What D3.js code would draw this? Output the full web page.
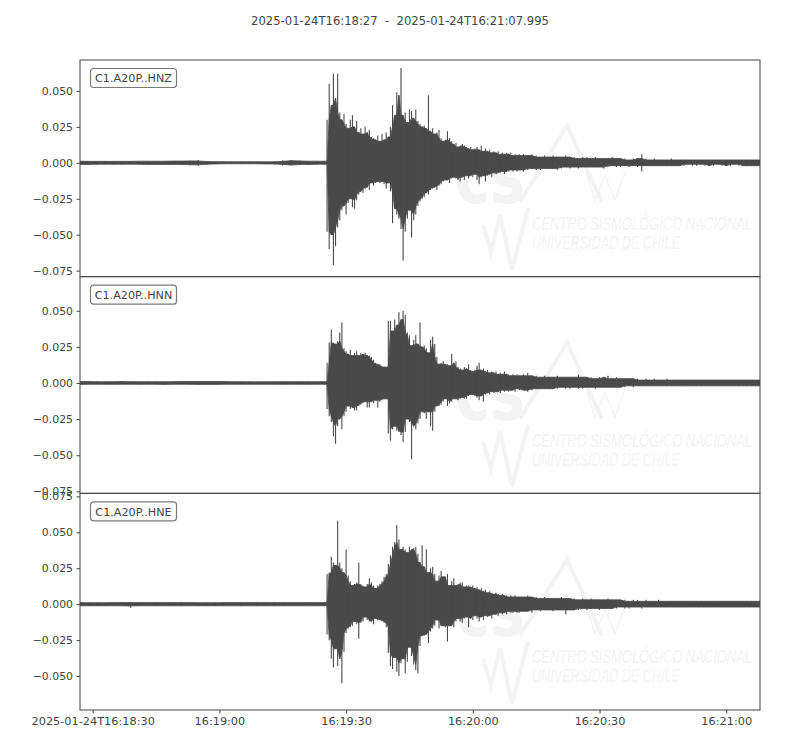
<!DOCTYPE html>
<html><head><meta charset="utf-8">
<script src="https://cdn.jsdelivr.net/npm/d3@7"></script>
<style>body{margin:0;background:#fff}</style>
</head><body>
<svg id="chart" width="800" height="750"></svg>
<script>
// ---------------- DATA ----------------
const title = "2025-01-24T16:18:27  -  2025-01-24T16:21:07.995";
const startTime = "2025-01-24T16:18:27.000Z";
const endTime = "2025-01-24T16:21:07.995Z";
const channels = ["C1.A20P..HNZ", "C1.A20P..HNN", "C1.A20P..HNE"];

// sample times, seconds after startTime (envelope samples)
const times = [
  0,2,4,6,8,10,12,14,16,18,20,22,24,26,28,30,32,34,36,38,40,42,44,46,48,50,52,54,56,58,
  58.5,59,59.5,60,60.5,61,61.5,62,62.5,63,63.5,64,64.5,65,65.5,66,66.5,67,67.5,68,
  68.5,69,69.5,70,70.5,71,71.5,72,72.5,73,73.5,74,74.5,75,75.5,76,76.5,77,77.5,78,
  78.5,79,79.5,80,80.5,81,81.5,82,82.5,83,83.5,84,84.5,85,85.5,86,86.5,87,87.5,88,
  88.5,89,89.5,90,90.5,91,91.5,92,92.5,93,93.5,94,94.5,95,95.5,96,96.5,97,97.5,98,
  98.5,99,99.5,100,100.5,101,101.5,102,102.5,103,103.5,104,
  105,106,107,108,109,110,111,112,113,114,115,116,117,118,119,120,121,122,123,124,
  125,126,127,128,129,130,131,132,133,134,135,136,137,138,139,140,141,142,143,144,
  145,146,147,148,149,150,151,152,153,154,155,156,157,158,159,160,161
];

const hnzMax = [
  0.0011,0.0012,0.0010,0.0012,0.0011,0.0010,0.0012,0.0011,0.0013,0.0011,0.0012,0.0012,0.0013,0.0015,0.0019,0.0013,0.0009,0.0008,0.0008,0.0007,0.0008,0.0008,0.0007,0.0010,0.0017,0.0018,0.0015,0.0013,0.0011,0.0011,
  0.030,0.055,0.040,0.062,0.045,0.062,0.035,0.030,0.034,0.027,
  0.024,0.030,0.033,0.025,0.029,0.021,0.024,0.020,0.025,0.021,
  0.023,0.018,0.017,0.016,0.019,0.015,0.020,0.016,0.021,0.018,
  0.025,0.040,0.033,0.049,0.047,0.066,0.033,0.035,0.028,0.037,
  0.036,0.031,0.037,0.029,0.027,0.025,0.026,0.024,0.047,0.022,
  0.024,0.020,0.021,0.023,0.017,0.015,0.016,0.022,0.017,0.015,
  0.013,0.014,0.011,0.012,0.013,0.012,0.011,0.010,0.011,0.009,
  0.010,0.011,0.009,0.012,0.008,0.010,0.008,0.009,0.007,0.008,
  0.007,0.008,0.006,0.007,0.006,0.007,0.006,0.007,0.005,0.006,
  0.005,0.006,
  0.006,0.005,0.006,0.005,0.004,0.005,0.004,0.005,0.004,0.004,
  0.005,0.004,0.004,0.003,0.004,0.004,0.003,0.004,0.003,0.003,
  0.003,0.004,0.003,0.003,0.003,0.002,0.003,0.003,0.006,0.003,
  0.002,0.003,0.002,0.002,0.002,0.003,0.002,0.002,0.002,0.002,
  0.002,0.002,0.002,0.002,0.002,0.002,0.002,0.002,0.002,0.002,
  0.002,0.002,0.002,0.002,0.002,0.002,0.002
];
const hnzMin = [
  -0.0012,-0.0011,-0.0012,-0.0010,-0.0012,-0.0011,-0.0010,-0.0012,-0.0011,-0.0013,-0.0012,-0.0011,-0.0014,-0.0016,-0.0020,-0.0014,-0.0010,-0.0008,-0.0007,-0.0008,-0.0007,-0.0008,-0.0008,-0.0011,-0.0018,-0.0017,-0.0016,-0.0012,-0.0012,-0.0010,
  -0.048,-0.060,-0.050,-0.071,-0.058,-0.045,-0.040,-0.033,-0.030,-0.036,
  -0.028,-0.025,-0.031,-0.032,-0.026,-0.022,-0.020,-0.021,-0.018,-0.017,
  -0.019,-0.014,-0.016,-0.014,-0.013,-0.014,-0.013,-0.015,-0.018,-0.014,
  -0.020,-0.042,-0.032,-0.036,-0.039,-0.046,-0.068,-0.048,-0.039,-0.033,
  -0.052,-0.040,-0.036,-0.030,-0.027,-0.025,-0.024,-0.021,-0.022,-0.019,
  -0.018,-0.017,-0.019,-0.016,-0.015,-0.013,-0.012,-0.012,-0.014,-0.011,
  -0.010,-0.011,-0.012,-0.013,-0.010,-0.012,-0.009,-0.011,-0.009,-0.010,
  -0.008,-0.012,-0.015,-0.010,-0.009,-0.013,-0.009,-0.008,-0.010,-0.007,
  -0.008,-0.007,-0.007,-0.006,-0.008,-0.006,-0.006,-0.005,-0.006,-0.005,
  -0.006,-0.005,
  -0.006,-0.005,-0.004,-0.005,-0.005,-0.004,-0.004,-0.004,-0.005,-0.004,
  -0.003,-0.004,-0.003,-0.004,-0.003,-0.003,-0.003,-0.003,-0.003,-0.004,
  -0.003,-0.002,-0.003,-0.003,-0.002,-0.003,-0.002,-0.003,-0.006,-0.002,
  -0.002,-0.002,-0.002,-0.002,-0.002,-0.002,-0.002,-0.002,-0.002,-0.001,
  -0.002,-0.002,-0.001,-0.002,-0.002,-0.002,-0.001,-0.002,-0.002,-0.002,
  -0.001,-0.002,-0.002,-0.002,-0.002,-0.002,-0.002
];

const hnnMax = [
  0.0012,0.0010,0.0011,0.0009,0.0010,0.0012,0.0010,0.0009,0.0011,0.0010,0.0009,0.0011,0.0010,0.0012,0.0011,0.0010,0.0011,0.0012,0.0010,0.0009,0.0010,0.0008,0.0009,0.0011,0.0009,0.0010,0.0009,0.0011,0.0010,0.0009,
  0.014,0.028,0.037,0.028,0.027,0.029,0.035,0.042,0.024,0.022,
  0.020,0.023,0.019,0.021,0.022,0.019,0.021,0.020,0.021,0.019,
  0.019,0.018,0.016,0.014,0.013,0.013,0.012,0.011,0.011,0.043,
  0.043,0.036,0.044,0.040,0.049,0.044,0.050,0.047,0.035,0.033,
  0.026,0.030,0.033,0.027,0.042,0.025,0.026,0.024,0.021,0.030,
  0.032,0.027,0.018,0.013,0.014,0.015,0.013,0.013,0.012,0.020,
  0.014,0.015,0.011,0.010,0.009,0.011,0.010,0.013,0.009,0.008,
  0.009,0.012,0.014,0.009,0.010,0.008,0.009,0.007,0.008,0.007,
  0.008,0.006,0.007,0.006,0.008,0.006,0.006,0.005,0.006,0.005,
  0.006,0.005,
  0.006,0.007,0.005,0.005,0.004,0.005,0.004,0.004,0.005,0.004,
  0.004,0.004,0.004,0.006,0.004,0.004,0.004,0.003,0.004,0.004,
  0.005,0.003,0.004,0.003,0.003,0.003,0.003,0.003,0.002,0.003,
  0.002,0.003,0.002,0.002,0.003,0.002,0.002,0.002,0.002,0.002,
  0.002,0.002,0.002,0.002,0.002,0.002,0.002,0.002,0.002,0.002,
  0.002,0.002,0.002,0.002,0.002,0.002,0.002
];
const hnnMin = [
  -0.0010,-0.0011,-0.0009,-0.0011,-0.0010,-0.0009,-0.0011,-0.0010,-0.0009,-0.0011,-0.0010,-0.0011,-0.0009,-0.0010,-0.0012,-0.0011,-0.0010,-0.0011,-0.0009,-0.0010,-0.0009,-0.0010,-0.0009,-0.0010,-0.0011,-0.0009,-0.0010,-0.0010,-0.0009,-0.0010,
  -0.018,-0.023,-0.027,-0.037,-0.042,-0.030,-0.025,-0.032,-0.023,-0.020,
  -0.016,-0.018,-0.017,-0.019,-0.019,-0.016,-0.015,-0.014,-0.013,-0.017,
  -0.017,-0.013,-0.014,-0.012,-0.017,-0.013,-0.012,-0.011,-0.011,-0.035,
  -0.040,-0.032,-0.030,-0.033,-0.034,-0.036,-0.041,-0.034,-0.025,-0.027,
  -0.053,-0.030,-0.032,-0.028,-0.025,-0.020,-0.021,-0.025,-0.020,-0.030,
  -0.033,-0.020,-0.016,-0.016,-0.015,-0.013,-0.011,-0.016,-0.014,-0.013,
  -0.011,-0.011,-0.012,-0.011,-0.010,-0.011,-0.011,-0.009,-0.008,-0.008,
  -0.009,-0.010,-0.012,-0.009,-0.013,-0.008,-0.007,-0.008,-0.006,-0.007,
  -0.006,-0.006,-0.007,-0.005,-0.006,-0.005,-0.006,-0.005,-0.005,-0.006,
  -0.004,-0.005,
  -0.005,-0.006,-0.005,-0.004,-0.004,-0.004,-0.004,-0.004,-0.004,-0.003,
  -0.004,-0.004,-0.003,-0.004,-0.004,-0.003,-0.003,-0.004,-0.003,-0.003,
  -0.003,-0.003,-0.003,-0.003,-0.003,-0.002,-0.003,-0.002,-0.002,-0.002,
  -0.002,-0.002,-0.002,-0.002,-0.002,-0.002,-0.002,-0.002,-0.002,-0.002,
  -0.002,-0.002,-0.002,-0.002,-0.002,-0.002,-0.002,-0.002,-0.002,-0.002,
  -0.002,-0.002,-0.002,-0.002,-0.002,-0.002,-0.002
];

const hneMax = [
  0.0011,0.0012,0.0010,0.0011,0.0012,0.0011,0.0013,0.0012,0.0011,0.0012,0.0011,0.0012,0.0013,0.0011,0.0012,0.0010,0.0012,0.0011,0.0013,0.0011,0.0012,0.0011,0.0012,0.0013,0.0011,0.0012,0.0011,0.0012,0.0011,0.0012,
  0.021,0.022,0.033,0.029,0.027,0.058,0.029,0.025,0.022,0.038,
  0.020,0.016,0.013,0.014,0.015,0.029,0.014,0.013,0.012,0.014,
  0.018,0.015,0.013,0.011,0.013,0.014,0.016,0.019,0.021,0.028,
  0.034,0.040,0.043,0.055,0.045,0.038,0.040,0.038,0.036,0.040,
  0.038,0.039,0.040,0.035,0.029,0.041,0.026,0.038,0.022,0.025,
  0.026,0.021,0.016,0.020,0.023,0.019,0.019,0.021,0.013,0.016,
  0.018,0.013,0.014,0.015,0.015,0.012,0.013,0.013,0.012,0.013,
  0.011,0.012,0.010,0.011,0.009,0.010,0.008,0.009,0.008,0.007,
  0.008,0.007,0.006,0.007,0.006,0.006,0.005,0.006,0.005,0.006,
  0.005,0.005,
  0.005,0.006,0.005,0.005,0.004,0.005,0.004,0.004,0.004,0.005,
  0.004,0.004,0.004,0.003,0.004,0.003,0.004,0.003,0.003,0.003,
  0.004,0.003,0.003,0.003,0.003,0.002,0.003,0.003,0.002,0.003,
  0.002,0.002,0.003,0.002,0.002,0.002,0.002,0.002,0.002,0.002,
  0.002,0.002,0.002,0.002,0.002,0.002,0.002,0.002,0.002,0.002,
  0.002,0.002,0.002,0.002,0.002,0.002,0.002
];
const hneMin = [
  -0.0012,-0.0011,-0.0012,-0.0013,-0.0011,-0.0012,-0.0024,-0.0012,-0.0011,-0.0013,-0.0012,-0.0011,-0.0013,-0.0012,-0.0011,-0.0013,-0.0012,-0.0011,-0.0012,-0.0013,-0.0011,-0.0012,-0.0011,-0.0012,-0.0013,-0.0011,-0.0012,-0.0011,-0.0012,-0.0011,
  -0.021,-0.025,-0.038,-0.044,-0.031,-0.043,-0.038,-0.055,-0.033,-0.020,
  -0.017,-0.016,-0.015,-0.012,-0.014,-0.024,-0.013,-0.012,-0.009,-0.011,
  -0.012,-0.012,-0.014,-0.010,-0.011,-0.011,-0.012,-0.013,-0.016,-0.034,
  -0.043,-0.045,-0.037,-0.047,-0.050,-0.041,-0.038,-0.048,-0.040,-0.030,
  -0.036,-0.042,-0.046,-0.048,-0.029,-0.022,-0.022,-0.021,-0.027,-0.019,
  -0.017,-0.015,-0.011,-0.017,-0.015,-0.015,-0.016,-0.026,-0.015,-0.015,
  -0.016,-0.012,-0.010,-0.012,-0.013,-0.010,-0.009,-0.016,-0.010,-0.011,
  -0.008,-0.010,-0.012,-0.009,-0.011,-0.008,-0.009,-0.008,-0.010,-0.007,
  -0.007,-0.008,-0.006,-0.007,-0.006,-0.007,-0.005,-0.006,-0.006,-0.005,
  -0.006,-0.006,
  -0.005,-0.005,-0.006,-0.004,-0.005,-0.004,-0.004,-0.005,-0.004,-0.004,
  -0.007,-0.004,-0.004,-0.004,-0.003,-0.004,-0.003,-0.003,-0.004,-0.003,
  -0.003,-0.003,-0.003,-0.002,-0.003,-0.003,-0.002,-0.002,-0.003,-0.002,
  -0.002,-0.002,-0.002,-0.002,-0.002,-0.002,-0.002,-0.002,-0.002,-0.002,
  -0.002,-0.002,-0.002,-0.002,-0.002,-0.002,-0.002,-0.002,-0.002,-0.002,
  -0.002,-0.002,-0.002,-0.002,-0.002,-0.002,-0.002
];

const yTicks = [-0.075, -0.050, -0.025, 0.000, 0.025, 0.050, 0.075];
const yLimits = [[-0.0792, 0.0715], [-0.0764, 0.0736], [-0.0736, 0.0771]];
const xTickTimes = ["2025-01-24T16:18:30Z","2025-01-24T16:19:00Z","2025-01-24T16:19:30Z","2025-01-24T16:20:00Z","2025-01-24T16:20:30Z","2025-01-24T16:21:00Z"];
const xTickLabels = ["2025-01-24T16:18:30","16:19:00","16:19:30","16:20:00","16:20:30","16:21:00"];
const watermarkLines = ["CENTRO SISMOLÓGICO NACIONAL", "UNIVERSIDAD DE CHILE"];

const traces = [
  {max: hnzMax, min: hnzMin},
  {max: hnnMax, min: hnnMin},
  {max: hneMax, min: hneMin}
];

// ---------------- LAYOUT ----------------
const plotL = 80, plotR = 760, plotT = 60, plotB = 710;
const ph = (plotB - plotT) / 3;
const ink = "#444444", wave = "#4a4a4a", wm = "#f3f3f3";
const font = "'DejaVu Sans', sans-serif";
const wmFont = "'Liberation Sans', Arial, sans-serif";

const svg = d3.select("#chart");
const t0 = new Date(startTime);
const x = d3.scaleUtc().domain([t0, new Date(endTime)]).range([plotL, plotR]);
const tx = s => x(new Date(t0.getTime() + s * 1000));

svg.append("text").attr("x", 400).attr("y", 25).attr("text-anchor", "middle")
  .style("white-space", "pre").attr("font-family", font).attr("font-size", 11.6)
  .attr("fill", ink).text(title);

const defs = svg.append("defs");

traces.forEach((tr, k) => {
  const pTop = plotT + k * ph, pBot = pTop + ph;
  const y = d3.scaleLinear().domain(yLimits[k]).range([pBot, pTop]);
  const g = svg.append("g");

  defs.append("clipPath").attr("id", "clip" + k)
    .append("rect").attr("x", plotL).attr("y", pTop).attr("width", plotR - plotL).attr("height", ph);

  // faint watermark logo
  const w = g.append("g").attr("transform", `translate(${plotL},${pTop})`);
  w.append("text").attr("x", 375).attr("y", 143).attr("font-family", font)
    .attr("font-weight", "bold").attr("font-size", 76).attr("fill", wm)
    .attr("textLength", 70).attr("lengthAdjust", "spacingAndGlyphs").text("cs");
  w.append("path").attr("d", "M440,142 L487,66 L522,142").attr("fill", "none")
    .attr("stroke", wm).attr("stroke-width", 4);
  w.append("path").attr("d", "M506,112 L515,140 L525,116 L535,140 L545,112").attr("fill", "none")
    .attr("stroke", wm).attr("stroke-width", 1.5);
  w.append("path").attr("d", "M403,165 L411,192 L420,155 L432,210 L448,148").attr("fill", "none")
    .attr("stroke", wm).attr("stroke-width", 4);
  w.append("text").attr("transform", "translate(452,170) scale(1,1.4)")
    .attr("font-family", wmFont).attr("font-style", "italic").attr("font-size", 13).attr("fill", wm)
    .attr("textLength", 220).attr("lengthAdjust", "spacingAndGlyphs").text(watermarkLines[0]);
  w.append("text").attr("transform", "translate(452,189) scale(1,1.4)")
    .attr("font-family", wmFont).attr("font-style", "italic").attr("font-size", 13).attr("fill", wm)
    .attr("textLength", 148).attr("lengthAdjust", "spacingAndGlyphs").text(watermarkLines[1]);

  const body = g.append("g").attr("clip-path", `url(#clip${k})`);

  // waveform: solid core (lowest of neighbouring samples) + one vertical min–max stroke per sample
  const n = times.length;
  const nb = i => [Math.max(0, i - 1), i, Math.min(n - 1, i + 1)];
  const core = d3.area()
    .x((d, i) => tx(times[i]))
    .y0((d, i) => y(d3.max(nb(i), j => tr.min[j])))
    .y1((d, i) => y(d3.min(nb(i), j => tr.max[j])));
  body.append("path").datum(times).attr("d", core)
    .attr("fill", wave).attr("stroke", wave).attr("stroke-width", 0.8);
  body.append("g").selectAll("line").data(times).join("line")
    .attr("x1", (d, i) => tx(times[i])).attr("x2", (d, i) => tx(times[i]))
    .attr("y1", (d, i) => y(tr.min[i])).attr("y2", (d, i) => y(tr.max[i]))
    .attr("stroke", wave).attr("stroke-width", 1.1);

  // frame
  g.append("rect").attr("x", plotL).attr("y", pTop).attr("width", plotR - plotL).attr("height", ph)
    .attr("fill", "none").attr("stroke", ink).attr("stroke-width", 1);

  // y axis
  const [lo, hi] = yLimits[k];
  const ya = d3.axisLeft(y).tickValues(yTicks.filter(v => v >= lo && v <= hi))
    .tickFormat(d3.format(".3f")).tickSize(3.5).tickPadding(3.5);
  const yg = g.append("g").attr("transform", `translate(${plotL},0)`).call(ya);
  yg.select(".domain").remove();
  yg.selectAll("line").attr("stroke", ink);
  yg.selectAll("text").attr("fill", ink).attr("font-family", font).attr("font-size", 10.9);

  // channel label
  const lg = g.append("g").attr("transform", `translate(${plotL + 10.5},${pTop + 8.5})`);
  lg.append("rect").attr("width", 86).attr("height", 19).attr("rx", 3)
    .attr("fill", "#fff").attr("stroke", "#7a7a7a").attr("stroke-width", 1.2);
  lg.append("text").attr("x", 43).attr("y", 10).attr("dy", "0.35em").attr("text-anchor", "middle")
    .attr("font-family", font).attr("font-size", 11.2).attr("fill", ink).text(channels[k]);
});

// x axis
const xa = d3.axisBottom(x).tickValues(xTickTimes.map(s => new Date(s)))
  .tickFormat((d, i) => xTickLabels[i]).tickSize(3.5).tickPadding(3.5);
const xg = svg.append("g").attr("transform", `translate(0,${plotB})`).call(xa);
xg.select(".domain").remove();
xg.selectAll("line").attr("stroke", ink);
xg.selectAll("text").attr("fill", ink).attr("font-family", font).attr("font-size", 11.3);
</script>
</body></html>
